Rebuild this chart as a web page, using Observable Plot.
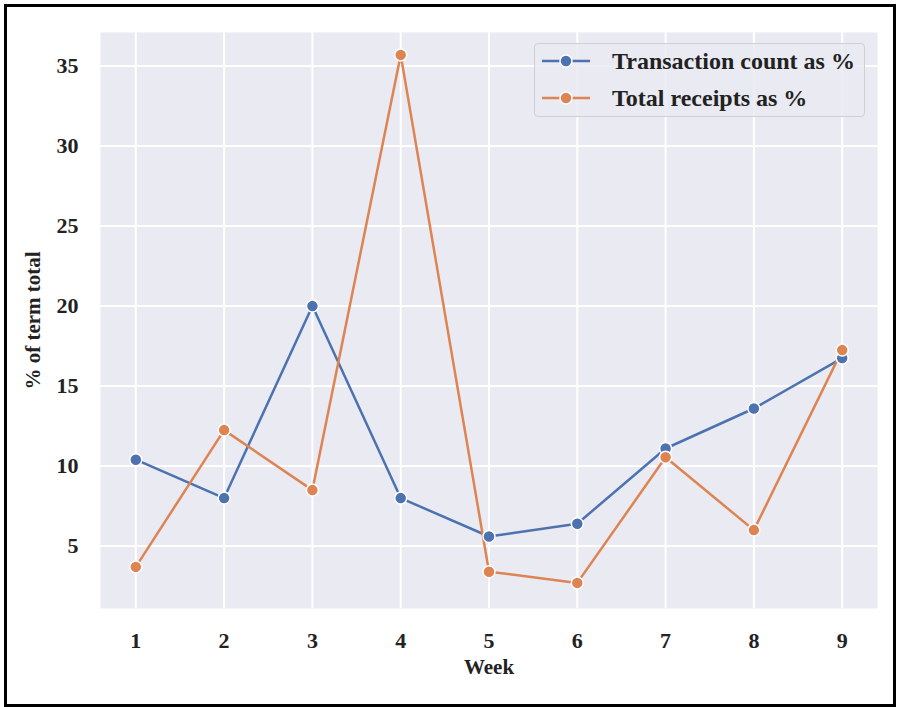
<!DOCTYPE html>
<html>
<head>
<meta charset="utf-8">
<script src="https://cdn.jsdelivr.net/npm/d3@7"></script>
<script src="https://cdn.jsdelivr.net/npm/@observablehq/plot@0.6"></script>
<style>
  html, body { margin: 0; padding: 0; background: #fff; }
  #wrap { position: relative; width: 897px; height: 707px; overflow: hidden; }
  #border { position: absolute; left: 4px; top: 4px; width: 886px; height: 697px; border: 3px solid #000; pointer-events: none; }
  #legend { position: absolute; left: 534px; top: 43px; width: 329px; height: 72px; border: 1.5px solid #cfcfd6; border-radius: 4px; background: rgba(234,234,242,0.85);
            font-family: "Liberation Serif", "Times New Roman", serif; font-weight: bold; font-size: 24px; color: #222; }
  .row { position: absolute; left: 6px; height: 28px; display: flex; align-items: center; }
  .row svg { margin-right: 21px; }
</style>
</head>
<body>
<div id="wrap">
  <div id="chart"></div>
  <div id="legend"></div>
  <div id="border"></div>
</div>
<script>
const weeks = [1, 2, 3, 4, 5, 6, 7, 8, 9];
const transactionPct = [10.4, 8.0, 20.0, 8.0, 5.6, 6.4, 11.1, 13.6, 16.75];
const receiptsPct = [3.7, 12.25, 8.5, 35.7, 3.4, 2.7, 10.55, 6.0, 17.25];
const seriesNames = ["Transaction count as %", "Total receipts as %"];
const seriesColors = ["#4c72b0", "#dd8452"];
const yTicks = [5, 10, 15, 20, 25, 30, 35];

const rows = [];
weeks.forEach((w, i) => rows.push({week: w, value: transactionPct[i], series: seriesNames[0]}));
weeks.forEach((w, i) => rows.push({week: w, value: receiptsPct[i], series: seriesNames[1]}));

const font = "'Liberation Serif', 'Times New Roman', serif";

const chart = Plot.plot({
  width: 897,
  height: 707,
  marginLeft: 100,
  marginRight: 20,
  marginTop: 32,
  marginBottom: 99,
  style: { fontFamily: font, fontWeight: "bold", color: "#222", background: "transparent" },
  x: { domain: [0.6, 9.4] },
  y: { domain: [1.1, 37.1] },
  color: { domain: seriesNames, range: seriesColors },
  marks: [
    Plot.frame({ fill: "#eaeaf2", stroke: null }),
    Plot.gridX(weeks, { stroke: "#fff", strokeOpacity: 1, strokeWidth: 2 }),
    Plot.gridY(yTicks, { stroke: "#fff", strokeOpacity: 1, strokeWidth: 2 }),
    Plot.axisX(weeks, { tickSize: 0, tickPadding: 24, fontSize: 22, label: null, tickFormat: d => String(d) }),
    Plot.axisY(yTicks, { tickSize: 0, tickPadding: 22, fontSize: 22, label: null }),
    Plot.text(["Week"], { frameAnchor: "bottom", dy: 65, fontSize: 21, fill: "#222" }),
    Plot.text(["% of term total"], { frameAnchor: "left", textAnchor: "middle", dx: -67, rotate: -90, fontSize: 21, fill: "#222" }),
    Plot.line(rows, { x: "week", y: "value", stroke: "series", z: "series", strokeWidth: 2.5 }),
    Plot.dot(rows, { x: "week", y: "value", fill: "series", stroke: "#fff", strokeWidth: 1.5, r: 6 })
  ]
});
document.getElementById("chart").appendChild(chart);

const legend = document.getElementById("legend");
seriesNames.forEach((name, i) => {
  const row = document.createElement("div");
  row.className = "row";
  row.style.top = (i === 0 ? 3 : 40) + "px";
  row.innerHTML = `<svg width="50" height="20"><line x1="1" x2="49" y1="10" y2="10" stroke="${seriesColors[i]}" stroke-width="2.5"/><circle cx="25" cy="10" r="6" fill="${seriesColors[i]}" stroke="#fff" stroke-width="1.5"/></svg><span>${name}</span>`;
  legend.appendChild(row);
});
</script>
</body>
</html>
